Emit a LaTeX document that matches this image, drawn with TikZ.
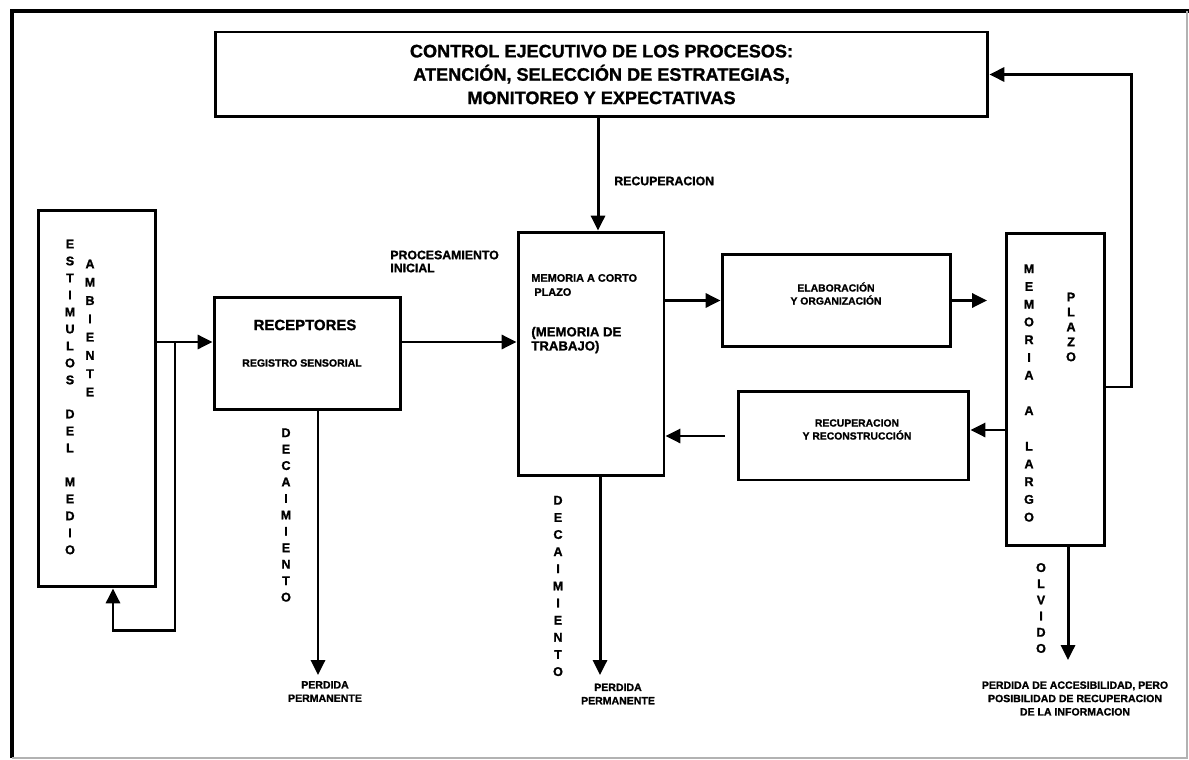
\documentclass[tikz,border=0pt]{standalone}
\usepackage{fontspec}
\setmainfont[BoldFeatures={FakeBold=1.2}]{Liberation Sans}
\usetikzlibrary{positioning, arrows.meta}
\tikzset{
>={Triangle[length=8.5pt,width=8pt]}, % filled arrow heads
box/.style={draw, line width=1.7pt, inner sep=0pt}, % the blocks
flow/.style={->, line width=1.7pt}, % the connectors
letters/.style={align=center, inner sep=0pt, font=\bfseries\fontsize{7.2}{#1}\selectfont}, % words written downwards
tag/.style={align=center, inner sep=0pt, font=\bfseries\fontsize{6}{7.6}\selectfont}, % small captions
}

\begin{document}
\begin{tikzpicture}[x=0.02cm, y=-0.02cm]
\useasboundingbox (0,0) rectangle (1189,760);
% frame
\draw[line width=2.2pt] (12,758) -- (12,11) -- (1189,11);
\draw[gray!60, line width=0.6pt] (1187,11) -- (1187,758) -- (12,758);

% blocks
\node[box, minimum width=15.46cm, minimum height=1.70cm, align=center,
      font=\bfseries\fontsize{10.3}{13.3}\selectfont] (ctrl) at (601.5,74.5)
      {CONTROL EJECUTIVO DE LOS PROCESOS:\\ATENCIÓN, SELECCIÓN DE ESTRATEGIAS,\\MONITOREO Y EXPECTATIVAS};
\node[box, minimum width=2.36cm, minimum height=7.54cm] (estim) at (97,398.5) {};
\node[box, minimum width=3.74cm, minimum height=2.26cm] (recep) at (307.5,353.5) {};
\node[box, minimum width=2.92cm, minimum height=4.88cm] (mcp) at (591,354) {};
\node[box, minimum width=4.58cm, minimum height=1.86cm] (elab) at (836.5,300.5) {};
\node[box, minimum width=4.62cm, minimum height=1.78cm] (recon) at (853.5,435.5) {};
\node[box, minimum width=1.96cm, minimum height=6.26cm] (mlp) at (1055,389.5) {};

% texts in the blocks
\node[letters=9.67pt] (estimtxt) at (70,397)
  {E\\S\\T\\I\\M\\U\\L\\O\\S\\~\\D\\E\\L\\~\\M\\E\\D\\I\\O};
\node[letters=10.4pt] (ambtxt) at (90,328) {A\\M\\B\\I\\E\\N\\T\\E};
\node[inner sep=0pt, font=\bfseries\fontsize{8.5}{10}\selectfont] (receptxt) at (305,325) {RECEPTORES};
\node[tag] (registxt) at (302,363) {REGISTRO SENSORIAL};
\node[anchor=west, align=left, inner sep=0pt, font=\bfseries\fontsize{6.2}{8}\selectfont] (mcptxt) at (531,285)
  {MEMORIA A CORTO\\ \ PLAZO};
\node[anchor=west, align=left, inner sep=0pt, font=\bfseries\fontsize{7.5}{8}\selectfont] (trabtxt) at (531,340)
  {(MEMORIA DE\\TRABAJO)};
\node[tag, font=\bfseries\fontsize{5.9}{7.4}\selectfont] (elabtxt) at (836,293.5) {ELABORACIÓN\\Y ORGANIZACIÓN};
\node[tag, font=\bfseries\fontsize{5.9}{7.4}\selectfont] (recontxt) at (857,429.5) {RECUPERACION\\Y RECONSTRUCCIÓN};
\node[letters=10.1pt] (mlptxt) at (1029,393)
  {M\\E\\M\\O\\R\\I\\A\\~\\A\\~\\L\\A\\R\\G\\O};
\node[letters=8.5pt] (plazotxt) at (1071,327) {P\\L\\A\\Z\\O};

% free ends
\coordinate (split) at (175,342);
\coordinate (elabtip) at (987,300.5);
\coordinate (recontail) at (725,436);
\coordinate (loss1) at (318,675);
\coordinate (loss2) at (600,675);
\coordinate (loss3) at (1068,660);

% connectors
\draw[flow] (estim.east |- split) -- (recep.west |- split);
\draw[flow] (split) -- ++(0,288) -| ([xshift=0.32cm]estim.south);
\draw[flow] (recep.east |- split) -- (mcp.west |- split);
\draw[flow] (ctrl.south -| 598,0) -- (mcp.north -| 598,0);
\draw[flow] (mcp.east |- elab.west) -- (elab.west);
\draw[flow] (elab.east) -- (elabtip);
\draw[flow] (mlp.west |- 0,430) -- (recon.east |- 0,430);
\draw[flow] (recontail) -- (mcp.east |- recontail);
\draw[flow] (mlp.east |- 0,387) -- ++(26,0) |- (ctrl.east);
\draw[flow] (recep.south -| loss1) -- (loss1);
\draw[flow] (mcp.south -| loss2) -- (loss2);
\draw[flow] (mlp.south -| loss3) -- (loss3);

% labels
\node[anchor=west, inner sep=0pt, font=\bfseries\fontsize{7}{8}\selectfont] (recuplbl) at (614,181) {RECUPERACION};
\node[anchor=west, align=left, inner sep=0pt, font=\bfseries\fontsize{7}{7.4}\selectfont] (proclbl) at (390,261.5)
  {PROCESAMIENTO\\INICIAL};
\node[letters=9.36pt] (decay1) at (286,515) {D\\E\\C\\A\\I\\M\\I\\E\\N\\T\\O};
\node[letters=9.75pt] (decay2) at (558,586) {D\\E\\C\\A\\I\\M\\I\\E\\N\\T\\O};
\node[letters=9.2pt] (olvido) at (1041,608) {O\\L\\V\\I\\D\\O};
\node[tag] (perd1) at (325,691.5) {PERDIDA\\PERMANENTE};
\node[tag] (perd2) at (618,694) {PERDIDA\\PERMANENTE};
\node[tag] (perd3) at (1075,698.5) {PERDIDA DE ACCESIBILIDAD, PERO\\POSIBILIDAD DE RECUPERACION\\DE LA INFORMACION};
\end{tikzpicture}
\end{document}
